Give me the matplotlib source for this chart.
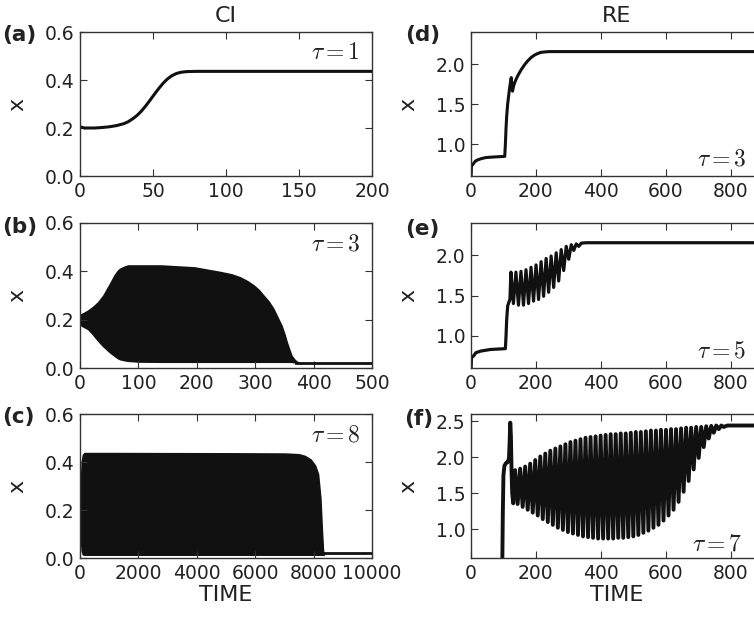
import matplotlib
matplotlib.use("Agg")
import matplotlib.pyplot as plt
import numpy as np

plt.rcParams["font.family"] = ["DejaVu Sans"]
plt.rcParams["mathtext.fontset"] = "cm"

INK = "#111111"
TXT = "#222222"

# ---- (a) CI, tau = 1 ----
a_t = [0, 3, 10, 15, 20, 25, 30, 33, 36, 39, 42, 45, 48, 51, 54, 57, 60, 63, 66, 69, 73, 80, 100, 200]
a_x = [0.205, 0.200, 0.200, 0.202, 0.205, 0.210, 0.218, 0.226, 0.238, 0.252, 0.270, 0.292,
       0.316, 0.341, 0.365, 0.387, 0.405, 0.418, 0.427, 0.432, 0.435, 0.436, 0.436, 0.436]

# ---- (b) CI, tau = 3 : envelope of the oscillation ----
b_t = [0, 7, 14, 22, 31, 40, 48, 54, 59, 64, 68, 75, 82, 100, 139, 196, 240, 260, 274,
       286, 297, 306, 314, 323, 331, 338, 345, 350, 354, 358, 362, 367, 371, 375]
b_upper = [0.22, 0.228, 0.238, 0.252, 0.272, 0.30, 0.334, 0.36, 0.383, 0.40, 0.41, 0.418,
           0.424, 0.424, 0.424, 0.416, 0.397, 0.387, 0.375, 0.36, 0.342, 0.323, 0.30, 0.275,
           0.245, 0.21, 0.175, 0.14, 0.106, 0.078, 0.051, 0.035, 0.026, 0.022]
b_lower = [0.18, 0.17, 0.161, 0.14, 0.113, 0.09, 0.072, 0.06, 0.051, 0.042, 0.037, 0.033,
           0.03, 0.027, 0.026, 0.026, 0.026, 0.026, 0.026, 0.026, 0.026, 0.026, 0.026, 0.026,
           0.026, 0.026, 0.026, 0.026, 0.026, 0.026, 0.026, 0.024, 0.022, 0.022]
b_tail_t = [370, 500]
b_tail_x = [0.021, 0.021]

# ---- (c) CI, tau = 8 : envelope ----
c_t = [0, 30, 60, 100, 150, 1000, 5000, 7000, 7500, 7700, 7900, 8050, 8150, 8230, 8280, 8320, 8350]
c_upper = [0.20, 0.30, 0.40, 0.43, 0.437, 0.437, 0.436, 0.435, 0.432, 0.425, 0.41, 0.385,
           0.35, 0.25, 0.12, 0.03, 0.02]
c_lower = [0.20, 0.08, 0.03, 0.015, 0.014, 0.014, 0.014, 0.014, 0.014, 0.014, 0.014, 0.014,
           0.014, 0.014, 0.014, 0.014, 0.014]
c_tail_t = [8320, 10000]
c_tail_x = [0.02, 0.02]

# ---- (d) RE, tau = 3 ----
d_t = [0, 1.5, 5, 10, 15, 20, 30, 45, 60, 80, 104, 106, 108, 110, 113, 116, 119, 122, 124,
       126, 128, 131, 134, 138, 145, 155, 165, 175, 185, 195, 205, 215, 225, 240, 260, 900]
d_x = [0.55, 0.73, 0.74, 0.77, 0.79, 0.80, 0.815, 0.83, 0.835, 0.84, 0.845, 1.0, 1.2, 1.35,
       1.5, 1.6, 1.7, 1.78, 1.83, 1.72, 1.66, 1.72, 1.76, 1.80, 1.86, 1.93, 1.99, 2.04, 2.08,
       2.11, 2.13, 2.145, 2.15, 2.155, 2.155, 2.155]

# ---- (e) RE, tau = 5 ----
e_pre_t = [0, 1.5, 8, 15, 30, 60, 106, 108, 110, 113, 117, 120]
e_pre_x = [0.55, 0.73, 0.75, 0.79, 0.81, 0.83, 0.84, 1.0, 1.2, 1.37, 1.42, 1.45]
e_peak_t = [123, 138.5, 154, 169.5, 185, 200.5, 216, 231.5, 247, 262.5, 278, 293.5]
e_peak_x = [1.79, 1.79, 1.80, 1.82, 1.85, 1.88, 1.92, 1.96, 1.99, 2.03, 2.07, 2.11]
e_trough_x = [1.40, 1.38, 1.38, 1.40, 1.43, 1.45, 1.49, 1.54, 1.60, 1.68, 1.81, 1.95]
e_half = 7.75
e_post_t = [309, 316.75, 324.5, 332.25, 340, 355, 370, 900]
e_post_x = [2.13, 2.06, 2.14, 2.11, 2.15, 2.155, 2.155, 2.155]

# ---- (f) RE, tau = 7 ----
f_pre_t = [0, 96, 98, 100, 103, 108, 113, 117, 119, 121, 123, 125, 127, 130]
f_pre_x = [0.3, 0.3, 1.2, 1.75, 1.88, 1.92, 1.93, 1.98, 2.2, 2.48, 2.3, 1.8, 1.5, 1.36]
f_first_peak = 136
f_period = 15.5
f_peak_x = [1.82, 1.84, 1.87, 1.91, 1.96, 2.01, 2.05, 2.09, 2.12, 2.15, 2.18, 2.21, 2.23,
            2.25, 2.27, 2.28, 2.29, 2.30, 2.31, 2.32, 2.32, 2.33, 2.33, 2.34, 2.35, 2.35,
            2.36, 2.37, 2.37, 2.38, 2.38, 2.39, 2.39, 2.40, 2.41, 2.41, 2.42, 2.42]
f_trough_x = [1.35, 1.31, 1.27, 1.23, 1.19, 1.14, 1.10, 1.06, 1.02, 0.99, 0.96, 0.94, 0.92,
              0.90, 0.89, 0.88, 0.87, 0.87, 0.87, 0.87, 0.88, 0.88, 0.89, 0.90, 0.92, 0.95,
              0.98, 1.02, 1.06, 1.12, 1.19, 1.27, 1.38, 1.52, 1.67, 1.83, 1.99, 2.14]
f_post_t = [725, 732.75, 740.5, 748.25, 756, 763.75, 771.5, 779.25, 790, 900]
f_post_x = [2.43, 2.26, 2.435, 2.34, 2.44, 2.39, 2.44, 2.42, 2.44, 2.44]


def zigzag(peak_t, peak_x, trough_x, half):
    pt = np.asarray(peak_t, dtype=float)
    t = np.column_stack([pt, pt + half]).ravel()
    x = np.column_stack([peak_x, trough_x]).ravel()
    return t, x


W, H = 754, 617
fig = plt.figure(figsize=(W / 100, H / 100), dpi=100)
fig.patch.set_facecolor("white")

col_x = [80 / W, 471 / W]
ax_w = 292 / W
rows = [(32, 176), (223, 368), (414, 558)]


def make_ax(col, row):
    top, bot = rows[row]
    ax = fig.add_axes([col_x[col], 1 - bot / H, ax_w, (bot - top) / H])
    ax.tick_params(direction="in", top=True, right=True, length=5, width=0.8,
                   labelsize=13.5, labelcolor=TXT, color="#333333", pad=4)
    for s in ax.spines.values():
        s.set_color("#333333")
        s.set_linewidth(1.0)
    ax.set_ylabel("x", fontsize=16, color=TXT)
    ax.yaxis.set_label_coords(-0.18, 0.5)
    return ax


axes = {}
for key, (c, r) in {"a": (0, 0), "b": (0, 1), "c": (0, 2),
                    "d": (1, 0), "e": (1, 1), "f": (1, 2)}.items():
    axes[key] = make_ax(c, r)

# left column
ax = axes["a"]
ax.plot(a_t, a_x, color=INK, lw=2.2)
ax.set_xlim(0, 200)

ax = axes["b"]
ax.fill_between(b_t, b_lower, b_upper, color=INK, lw=1.2, edgecolor=INK)
ax.plot(b_tail_t, b_tail_x, color=INK, lw=2)
ax.set_xlim(0, 500)

ax = axes["c"]
ax.fill_between(c_t, c_lower, c_upper, color=INK, lw=1.2, edgecolor=INK)
ax.plot(c_tail_t, c_tail_x, color=INK, lw=2)
ax.set_xlim(0, 10000)

for k in "abc":
    axes[k].set_ylim(0, 0.6)
    axes[k].set_yticks([0.0, 0.2, 0.4, 0.6])

# right column
ax = axes["d"]
ax.plot(d_t, d_x, color=INK, lw=2.2)

ax = axes["e"]
zt, zx = zigzag(e_peak_t, e_peak_x, e_trough_x, e_half)
ax.plot(np.concatenate([e_pre_t, zt, e_post_t]),
        np.concatenate([e_pre_x, zx, e_post_x]), color=INK, lw=2.3)

ax = axes["f"]
f_peak_t = f_first_peak + f_period * np.arange(len(f_peak_x))
zt, zx = zigzag(f_peak_t, f_peak_x, f_trough_x, f_period / 2)
ax.plot(np.concatenate([f_pre_t, zt, f_post_t]),
        np.concatenate([f_pre_x, zx, f_post_x]), color=INK, lw=2.8)

for k in "def":
    axes[k].set_xlim(0, 900)
    axes[k].set_xticks([0, 200, 400, 600, 800])
axes["d"].set_ylim(0.6, 2.4)
axes["e"].set_ylim(0.6, 2.4)
axes["f"].set_ylim(0.6, 2.6)
axes["d"].set_yticks([1.0, 1.5, 2.0])
axes["e"].set_yticks([1.0, 1.5, 2.0])
axes["f"].set_yticks([1.0, 1.5, 2.0, 2.5])

# tau annotations
taus = {"a": ("1", 0.96, 0.86), "b": ("3", 0.96, 0.86), "c": ("8", 0.96, 0.86),
        "d": ("3", 0.945, 0.12), "e": ("5", 0.945, 0.12), "f": ("7", 0.93, 0.10)}
for k, (v, tx, ty) in taus.items():
    axes[k].text(tx, ty, r"$\tau=%s$" % v, transform=axes[k].transAxes,
                 ha="right", va="center", fontsize=17, color=TXT)

# column titles and x labels
axes["a"].set_title("CI", fontsize=16, color=TXT, pad=7)
axes["d"].set_title("RE", fontsize=16, color=TXT, pad=7)
for k in "cf":
    axes[k].set_xlabel("TIME", fontsize=16, color=TXT)
    axes[k].xaxis.set_label_coords(0.5, -0.19)

# panel letters
letters = {"a": (2, 35), "b": (2, 227), "c": (2, 417),
           "d": (405, 35), "e": (405, 229), "f": (404, 419)}
for k, (px, py) in letters.items():
    fig.text(px / W, 1 - py / H, "(%s)" % k, fontsize=15.5, fontweight="bold",
             color=TXT, ha="left", va="center")

fig.savefig("out.png", dpi=100, facecolor="white")
